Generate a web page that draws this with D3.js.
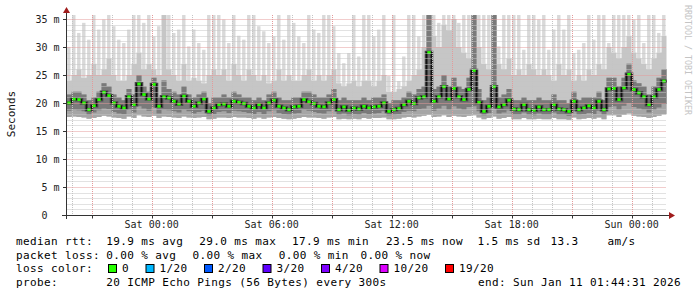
<!DOCTYPE html>
<html><head><meta charset="utf-8">
<script src="https://cdn.jsdelivr.net/npm/d3@7"></script>
<style>
html,body{margin:0;padding:0;background:#fff;}
svg{display:block;}
text{font-family:"DejaVu Sans Mono",monospace;white-space:pre;}
</style></head><body>
<svg id="c" width="697" height="297" xml:space="preserve"></svg>
<script>
// ---- data (one value per 15-minute bin) ----
const startTime = "2026-01-09T19:44:31Z";
const endTime   = "2026-01-11T01:44:31Z";
const binMinutes = 15;

// median round-trip time (ms)
const smokeMed = [
 20.0,20.7,20.6,20.0,18.8,19.5,20.6,21.9,21.3,20.0,19.4,19.1,21.1,19.7,23.4,21.5,20.7,23.3,19.4,21.1,20.9,20.3,19.8,21.2,20.3,19.4,20.0,20.7,18.5,19.1,
 19.7,19.8,19.4,20.3,20.1,19.9,19.4,19.1,19.7,19.1,20.0,20.5,19.4,19.1,18.8,19.3,19.4,20.6,20.2,19.9,19.4,19.3,20.0,20.6,18.8,19.3,18.7,19.1,18.9,19.4,
 19.1,19.3,19.4,20.0,18.5,18.8,19.0,19.7,20.3,19.9,20.9,21.1,29.0,20.3,21.1,22.9,20.7,22.6,21.1,20.6,22.4,25.8,20.1,18.5,19.4,22.9,19.3,19.7,20.5,18.9,
 18.8,19.7,18.8,18.7,19.3,18.8,18.8,19.7,18.9,18.8,18.5,20.3,18.8,19.1,19.5,19.1,20.3,18.8,22.5,22.6,20.6,22.7,25.1,22.4,21.8,21.1,19.7,21.1,22.4,23.9];
// top of the lightest smoke (slowest ping, ms)
const smokeMax = [
 30.0,35.8,32.5,34.3,31.3,35.8,33.1,34.9,35.8,33.7,31.3,30.7,33.1,35.8,35.8,34.3,35.8,31.9,33.7,35.8,35.8,32.5,33.1,35.8,30.1,33.1,30.7,29.5,35.8,35.8,
 35.8,34.9,30.7,35.8,32.0,31.3,35.8,35.8,33.7,32.8,30.7,31.9,35.8,31.3,35.8,34.3,31.9,30.7,35.8,33.1,32.5,35.8,35.8,33.7,28.9,27.1,28.9,35.8,28.3,35.8,
 35.8,31.9,33.1,35.8,24.8,35.8,23.9,28.3,35.8,35.8,31.9,35.8,35.8,35.8,34.3,35.8,35.8,35.8,34.3,35.8,35.8,35.8,35.8,35.8,35.8,35.8,30.1,35.8,35.8,35.8,
 35.8,29.5,35.8,35.8,34.9,35.8,29.5,33.1,35.8,33.1,35.8,28.9,29.5,30.7,35.8,31.3,35.8,35.8,30.7,35.8,35.8,35.8,35.8,34.9,35.8,30.7,35.8,35.8,32.5,35.8];
// top of the medium grey smoke (ms)
const smokeHigh = [
 24,25,26,24.5,25,27,25,26,28,25,24,24,25,27,29,26,27,26,25,35.8,26,25,24,27,24,24.5,24,23.5,25,26,
 25,26,24,27,25,24,26,25,24,25,23.5,24,26,24,25,24,24,25,26,24,25,24,25,26,23.5,23,23.5,24,23,24,
 24,23,24,25,22,22,22.5,23,24,25,26,30,35.8,32,30,34,33,35,30,29,28,35.8,30,27,26,35.8,27,26,28,25,
 26,25,27,26,25,26,25,24,27,25,26,24,25,24,26,25,27,26,30,29,28,30,32,29,28,27,26,28,29,32];
// top of the dark smoke core (ms)
const smokeCore = [
 21.5,22,22,21.5,20.5,21,22,23.5,23,21.5,21,20.5,22.5,21.5,25,23,22,24.5,21,24,22.5,22,21.5,23,21.5,21,21.5,22,20,21,
 21,21.5,21,22,21.5,21,21,20.5,21,20.5,21.5,22,21,20.5,20.5,21,21,22,22,21.5,21,21,21.5,22.5,20.5,21,20.5,20.5,20.5,21,
 20.5,21,21,21.5,20,20.5,20.5,21,22,21.5,22.5,23,35.8,22.5,23,25,23,24.5,23,22.5,24.5,35.8,22.5,20.5,21,35.8,21,21.5,22.5,20.5,
 20.5,21,20.5,20.5,21,20.5,20.5,21.5,20.5,20.5,20,22,20.5,21,21,21,22,20.5,24.5,24.5,23,24.5,27,24,23.5,23,21.5,23,24.5,26];
// bottom of the dark smoke core (ms)
const smokeLow = [
 18.6,18.8,18.7,18.5,17.9,18.3,18.7,19.0,18.9,18.4,18.1,18.0,18.8,18.3,19.4,19.0,18.6,19.2,18.1,18.8,18.7,18.5,18.3,18.8,18.5,18.1,18.4,18.6,17.8,18.0,
 18.4,18.5,18.2,18.6,18.5,18.4,18.2,18.0,18.4,18.0,18.5,18.7,18.2,18.0,17.9,18.1,18.2,18.8,18.6,18.4,18.2,18.1,18.5,18.8,17.9,18.1,17.8,18.0,17.9,18.2,
 18.0,18.1,18.2,18.5,17.8,17.9,18.0,18.4,18.6,18.5,18.9,19.0,19.5,18.6,19.0,19.5,18.8,19.4,19.0,18.8,19.3,19.4,18.5,17.8,18.2,19.0,18.1,18.3,18.7,17.9,
 17.9,18.3,17.9,17.8,18.1,17.9,17.9,18.3,17.9,17.9,17.7,18.6,17.9,18.0,18.2,18.0,18.6,17.9,19.3,19.4,18.8,19.5,20.0,19.3,19.0,18.8,18.3,18.8,19.2,19.8];
// bottom of the lightest smoke (fastest ping, ms)
const smokeMin = [
 17.5,17.6,17.5,17.4,17.2,17.3,17.5,17.7,17.6,17.4,17.3,17.2,17.6,17.3,17.8,17.6,17.5,17.7,17.3,17.6,17.5,17.4,17.3,17.6,17.4,17.3,17.4,17.5,17.1,17.2,
 17.4,17.4,17.3,17.5,17.4,17.4,17.3,17.2,17.4,17.2,17.4,17.5,17.3,17.2,17.1,17.2,17.3,17.5,17.4,17.4,17.3,17.2,17.4,17.5,17.1,17.2,17.1,17.2,17.1,17.3,
 17.2,17.3,17.3,17.4,17.1,17.1,17.2,17.4,17.5,17.4,17.6,17.7,17.9,17.5,17.6,17.8,17.5,17.7,17.6,17.5,17.7,17.8,17.4,17.1,17.3,17.6,17.2,17.3,17.5,17.1,
 17.1,17.3,17.1,17.1,17.2,17.1,17.1,17.3,17.1,17.1,17.0,17.4,17.1,17.2,17.3,17.2,17.4,17.1,17.8,17.8,17.5,17.9,18.1,17.7,17.6,17.5,17.3,17.5,17.7,18.0];

const yTicks = [0,5,10,15,20,25,30,35];
const yTickLabels = ["0","5 m","10 m","15 m","20 m","25 m","30 m","35 m"];
const xTickTimes = ["2026-01-10T00:00:00Z","2026-01-10T06:00:00Z","2026-01-10T12:00:00Z","2026-01-10T18:00:00Z","2026-01-11T00:00:00Z"];
const xTickLabels = ["Sat 00:00","Sat 06:00","Sat 12:00","Sat 18:00","Sun 00:00"];
const rttItems  = ["median rtt:","19.9 ms avg","29.0 ms max","17.9 ms min","23.5 ms now","1.5 ms sd","13.3","am/s"];
const lossItems = ["packet loss:","0.00 % avg","0.00 % max","0.00 % min","0.00 % now"];
const legendLossTitle = "loss color:";
const lossLabels = ["0","1/20","2/20","3/20","4/20","10/20","19/20"];
const lossColors = ["#26ff00","#00b8ff","#0059ff","#5e00ff","#7e00ff","#dd00ff","#ff0000"];
const probeItems = ["probe:","20 ICMP Echo Pings (56 Bytes) every 300s"];
const endText = "end: Sun Jan 11 01:44:31 2026";
const yAxisTitle = "Seconds";
const watermark = "RRDTOOL / TOBI OETIKER";

// ---- layout ----
const rttX  = [16,106.3,199.3,292,386,477.5,550.5,607.5];
const lossX = [16,106.3,192.6,278.8,360.5];
const probeX = [16,106.3];

// ---- drawing ----
const svg = d3.select("#c");
svg.append("rect").attr("width",697).attr("height",297).attr("fill","#fff");

const t0 = new Date(startTime), t1 = new Date(endTime);
const x = d3.scaleUtc().domain([t0,t1]).range([66.5,666.5]);
const y = d3.scaleLinear().domain([0,35.7]).range([215,15]);
const cl = v => Math.min(v, 35.7);

const n = smokeMed.length;
const binTime = i => new Date(t0.getTime() + i*binMinutes*60000);
const idx = d3.range(n+1); // extra point closes the last step
const at = (arr,i) => arr[Math.min(i,n-1)];

function band(loArr, hiArr, color){
  const a = d3.area().curve(d3.curveStepAfter)
    .x(i => x(binTime(i)))
    .y0(i => y(cl(at(loArr,i))))
    .y1(i => y(cl(at(hiArr,i))));
  svg.append("path").attr("d", a(idx)).attr("fill", color);
}
// lightest smoke: thin streaks above the medium band
svg.append("g").selectAll("rect").data(smokeMax).join("rect")
  .attr("x",(d,i)=> x(binTime(i)) + 0.6)
  .attr("width",(d,i)=> (x(binTime(i+1)) - x(binTime(i))) * 0.68)
  .attr("y", d => y(cl(d)))
  .attr("height",(d,i)=> Math.max(0, y(cl(smokeHigh[i])) - y(cl(d))))
  .attr("fill","#d9d9d9");
band(smokeMin, smokeHigh, "#c6c6c6");
band(smokeMin, smokeCore, "#a6a6a6");
band(smokeLow, smokeCore, "#7a7a7a");

// median: dark step line + green loss-colour marks
const medLine = d3.line().curve(d3.curveStepAfter)
  .x(i => x(binTime(i))).y(i => y(at(smokeMed,i)));
svg.append("path").attr("d", medLine(idx)).attr("fill","none")
  .attr("stroke","#4a4a4a").attr("stroke-width",3.6);
svg.append("path").attr("d", medLine(idx)).attr("fill","none")
  .attr("stroke","#111").attr("stroke-width",1.4);
svg.append("g").selectAll("rect").data(smokeMed).join("rect")
  .attr("x",(d,i)=> x(binTime(i)) + 0.8)
  .attr("width",(d,i)=> x(binTime(i+1)) - x(binTime(i)) - 1.6)
  .attr("y", d => y(d) - 1.4).attr("height", 2.8)
  .attr("fill", lossColors[0]);

// grid (drawn over the smoke, like rrdtool)
const grid = svg.append("g");
const minorY = d3.range(1,36).filter(v => v % 5 !== 0);
grid.selectAll(".hm").data(minorY).join("line")
  .attr("x1",66.5).attr("x2",666.5)
  .attr("y1",d=>Math.round(y(d))+0.5).attr("y2",d=>Math.round(y(d))+0.5)
  .attr("stroke","#c4c4c4").attr("stroke-dasharray","1,1").attr("stroke-width",1);
const hours = d3.utcHour.range(d3.utcHour.ceil(t0), t1);
grid.selectAll(".vm").data(hours.filter(h => h.getUTCHours()%3 !== 0)).join("line")
  .attr("x1",d=>Math.round(x(d))+0.5).attr("x2",d=>Math.round(x(d))+0.5)
  .attr("y1",15).attr("y2",215)
  .attr("stroke","#c4c4c4").attr("stroke-dasharray","1,1");
grid.selectAll(".hM").data(yTicks.slice(1)).join("line")
  .attr("x1",66.5).attr("x2",666.5)
  .attr("y1",d=>Math.round(y(d))+0.5).attr("y2",d=>Math.round(y(d))+0.5)
  .attr("stroke","#e49a9a").attr("stroke-dasharray","1,1");
const major = hours.filter(h => h.getUTCHours()%3 === 0);
grid.selectAll(".vM").data(major).join("line")
  .attr("x1",d=>Math.round(x(d))+0.5).attr("x2",d=>Math.round(x(d))+0.5)
  .attr("y1",15).attr("y2",215)
  .attr("stroke","#e49a9a").attr("stroke-dasharray","1,1");

// axes
const axisCol = "#333";
svg.append("line").attr("x1",62).attr("x2",670).attr("y1",215.5).attr("y2",215.5)
  .attr("stroke",axisCol).attr("stroke-width",1);
svg.append("line").attr("x1",66.5).attr("x2",66.5).attr("y1",219).attr("y2",10)
  .attr("stroke",axisCol).attr("stroke-width",1);
svg.append("path").attr("d","M669,212 L675,215.5 L669,219 Z").attr("fill","#a01c1c");
svg.append("path").attr("d","M63,13 L66.5,7 L70,13 Z").attr("fill","#a01c1c");
// ticks
svg.selectAll(".yt").data(yTicks).join("line")
  .attr("x1",63).attr("x2",66.5)
  .attr("y1",d=>Math.round(y(d))+0.5).attr("y2",d=>Math.round(y(d))+0.5)
  .attr("stroke",axisCol);
svg.selectAll(".xt").data(major).join("line")
  .attr("x1",d=>Math.round(x(d))+0.5).attr("x2",d=>Math.round(x(d))+0.5)
  .attr("y1",215).attr("y2",218.5).attr("stroke",axisCol);

// tick labels
svg.selectAll(".yl").data(yTicks).join("text")
  .attr("x",(d,i)=> yTickLabels[i].indexOf(" ")<0 ? 59.5-12 : 59.5)
  .attr("y",d=> y(d)+3.6).attr("text-anchor","end")
  .attr("font-size",10).attr("fill","#222")
  .text((d,i)=>yTickLabels[i]);
svg.selectAll(".xl").data(xTickTimes).join("text")
  .attr("x",d=> x(new Date(d))).attr("y",227.5).attr("text-anchor","middle")
  .attr("font-size",10).attr("fill","#222")
  .text((d,i)=>xTickLabels[i]);

// titles
svg.append("text").attr("transform","translate(14.5,114) rotate(-90)")
  .attr("text-anchor","middle").attr("font-size",11).attr("fill","#111")
  .text(yAxisTitle);
svg.append("text").attr("transform","translate(684.5,5) rotate(90)")
  .attr("text-anchor","start").attr("font-size",8.3).attr("fill","#c4c4c4")
  .text(watermark);

// legend
const L = {size:11, ls:0.38, cw:7};
function ltext(s, xx, yy, anchor){
  return svg.append("text").attr("x",xx).attr("y",yy).attr("font-size",L.size)
    .attr("letter-spacing",L.ls).attr("fill","#000")
    .attr("text-anchor",anchor||"start").text(s);
}
rttItems.forEach((s,i)=> ltext(s, rttX[i], 245));
lossItems.forEach((s,i)=> ltext(s, lossX[i], 258.7));
ltext(legendLossTitle, 16, 272.4);
let lx = 108;
lossLabels.forEach((lab,i)=>{
  svg.append("rect").attr("x",lx+0.5).attr("y",264.5).attr("width",8).attr("height",8)
    .attr("fill",lossColors[i]).attr("stroke","#000").attr("stroke-width",1);
  ltext(lab, lx+14, 272.4);
  lx += 14 + lab.length*L.cw + 16.5;
});
probeItems.forEach((s,i)=> ltext(s, probeX[i], 286.1));
ltext(endText, 681, 286.1, "end");
</script>
</body></html>
